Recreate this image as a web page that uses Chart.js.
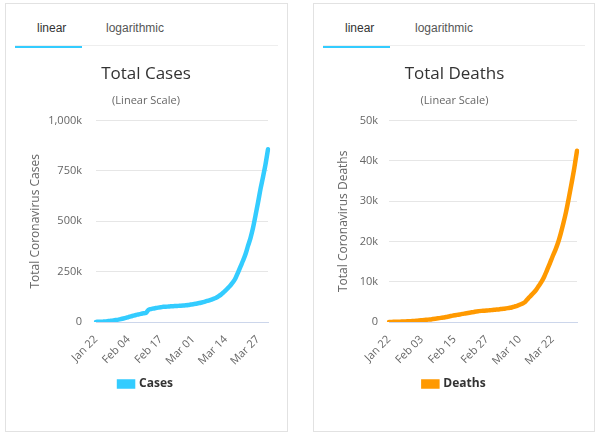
<!DOCTYPE html>
<html>
<head>
<meta charset="utf-8">
<script src="https://cdn.jsdelivr.net/npm/chart.js@4"></script>
<style>
  body { margin: 0; width: 600px; height: 437px; background: #fff; position: relative; overflow: hidden; }
  .panel { position: absolute; top: 3px; height: 427px; border: 1px solid #e2e2e2; background: #fff; }
  .tab { position: absolute; top: 17px; font: 12px "Liberation Sans", Arial, sans-serif; color: #333; }
  .tab.off { color: #555; }
  .sep { position: absolute; left: 9px; top: 41px; height: 1px; background: #eeeeee; }
  .under { position: absolute; left: 9px; top: 42px; width: 67px; height: 2px; background: #33ccff; }
  .wrap { position: absolute; left: 0; top: 51px; height: 375px; }
</style>
</head>
<body>
<div class="panel" style="left:5px; width:281px;">
  <div class="tab" style="left:31px;">linear</div>
  <div class="tab off" style="left:100px;">logarithmic</div>
  <div class="sep" style="width:263px;"></div>
  <div class="under"></div>
  <div class="wrap" style="width:281px;"><canvas id="casesChart"></canvas></div>
</div>
<div class="panel" style="left:313px; width:280px;">
  <div class="tab" style="left:31px;">linear</div>
  <div class="tab off" style="left:101px;">logarithmic</div>
  <div class="sep" style="width:262px;"></div>
  <div class="under"></div>
  <div class="wrap" style="width:280px;"><canvas id="deathsChart"></canvas></div>
</div>
<script>
// Dates (Jan 22 - Mar 31)
let dates = [
  "Jan 22","Jan 23","Jan 24","Jan 25","Jan 26","Jan 27","Jan 28","Jan 29","Jan 30","Jan 31",
  "Feb 01","Feb 02","Feb 03","Feb 04","Feb 05","Feb 06","Feb 07","Feb 08","Feb 09","Feb 10",
  "Feb 11","Feb 12","Feb 13","Feb 14","Feb 15","Feb 16","Feb 17","Feb 18","Feb 19","Feb 20",
  "Feb 21","Feb 22","Feb 23","Feb 24","Feb 25","Feb 26","Feb 27","Feb 28","Feb 29","Mar 01",
  "Mar 02","Mar 03","Mar 04","Mar 05","Mar 06","Mar 07","Mar 08","Mar 09","Mar 10","Mar 11",
  "Mar 12","Mar 13","Mar 14","Mar 15","Mar 16","Mar 17","Mar 18","Mar 19","Mar 20","Mar 21",
  "Mar 22","Mar 23","Mar 24","Mar 25","Mar 26","Mar 27","Mar 28","Mar 29","Mar 30","Mar 31"
];

// Total cases
let cases = [
  580, 845, 1317, 2015, 2800, 4581, 6058, 7813, 9823, 11950,
  14553, 17391, 20630, 24545, 28266, 31439, 34876, 37552, 40553, 43099,
  45134, 59287, 64438, 67100, 69197, 71329, 73332, 75184, 75700, 76677,
  77673, 78651, 79205, 80087, 80828, 81820, 83112, 84615, 86604, 88585,
  90443, 93016, 95314, 98425, 102050, 106099, 109991, 114381, 118948, 126214,
  134576, 145483, 156653, 169593, 182490, 198238, 218822, 246336, 275969, 305275,
  337459, 378830, 418045, 467653, 529591, 593291, 660706, 720117, 782365, 857487
];

// Total deaths
let deaths = [
  17, 25, 41, 56, 80, 106, 132, 170, 213, 259,
  304, 362, 426, 492, 565, 638, 724, 813, 910, 1018,
  1115, 1261, 1383, 1526, 1669, 1775, 1873, 2009, 2126, 2247,
  2360, 2460, 2618, 2699, 2763, 2800, 2858, 2923, 2977, 3050,
  3117, 3202, 3285, 3387, 3494, 3599, 3827, 4025, 4296, 4600,
  5000, 5800, 6500, 7200, 8000, 9000, 10000, 11300, 12900, 14500,
  16200, 17800, 19600, 21900, 24500, 27400, 30800, 34400, 38200, 42500
];

// Shown tick labels
let caseTicks = ["Jan 22", "Feb 04", "Feb 17", "Mar 01", "Mar 14", "Mar 27"];
let deathTicks = ["Jan 22", "Feb 03", "Feb 15", "Feb 27", "Mar 10", "Mar 22"];

function kLabel(v) {
    if (v === 0) return "0";
    return (v / 1000).toLocaleString("en-US") + "k";
}

function makeChart(id, opts) {
    let ctx = document.getElementById(id).getContext("2d");
    return new Chart(ctx, {
        type: "line",
        data: {
            labels: dates,
            datasets: [{
                label: opts.name,
                data: opts.values,
                borderColor: opts.color,
                backgroundColor: opts.color,
                borderWidth: 4.5,
                pointRadius: 0,
                cubicInterpolationMode: "monotone",
                borderCapStyle: "round"
            }]
        },
        options: {
            responsive: true,
            maintainAspectRatio: false,
            animation: false,
            layout: { padding: { left: 18, right: opts.padRight, top: 0, bottom: 30 } },
            plugins: {
                title: {
                    display: true,
                    text: opts.title,
                    color: "#333",
                    font: { family: "'Open Sans'", size: 17, weight: "normal" },
                    padding: { top: 9, bottom: 10 }
                },
                subtitle: {
                    display: true,
                    text: "(Linear Scale)",
                    color: "#666",
                    font: { family: "'Open Sans'", size: 11 },
                    padding: { top: 0, bottom: 13 }
                },
                legend: {
                    position: "bottom",
                    labels: {
                        color: "#333",
                        font: { family: "'Open Sans'", size: 12, weight: "bold" },
                        boxWidth: 14,
                        boxHeight: 5,
                        padding: 10
                    }
                },
                tooltip: { enabled: false }
            },
            scales: {
                x: {
                    grid: { display: false },
                    border: { color: "#ccd6eb" },
                    afterFit: function (scale) { scale.height = 46; },
                    ticks: {
                        autoSkip: false,
                        minRotation: 45,
                        maxRotation: 45,
                        color: "#666",
                        font: { family: "'Open Sans'", size: 11 },
                        callback: function (val, i) {
                            let l = dates[i];
                            return opts.ticks.includes(l) ? l : "";
                        }
                    }
                },
                y: {
                    min: 0,
                    max: opts.max,
                    afterFit: function (scale) { scale.width = opts.axisWidth; },
                    ticks: {
                        stepSize: opts.step,
                        color: "#666",
                        padding: opts.tickPad,
                        font: { family: "'Open Sans'", size: 11 },
                        callback: function (v) { return kLabel(v); }
                    },
                    grid: { color: "#e6e6e6", drawTicks: false },
                    border: { display: false },
                    title: {
                        display: true,
                        text: opts.axisTitle,
                        color: "#666",
                        font: { family: "'Open Sans'", size: 12 }
                    }
                }
            }
        }
    });
}

makeChart("casesChart", {
    name: "Cases", values: cases, color: "#33ccff", title: "Total Cases",
    axisTitle: "Total Coronavirus Cases", ticks: caseTicks,
    max: 1000000, step: 250000, axisWidth: 72, tickPad: 14, padRight: 19
});
makeChart("deathsChart", {
    name: "Deaths", values: deaths, color: "#ff9900", title: "Total Deaths",
    axisTitle: "Total Coronavirus Deaths", ticks: deathTicks,
    max: 50000, step: 10000, axisWidth: 57, tickPad: 11, padRight: 17
});
</script>
</body>
</html>
